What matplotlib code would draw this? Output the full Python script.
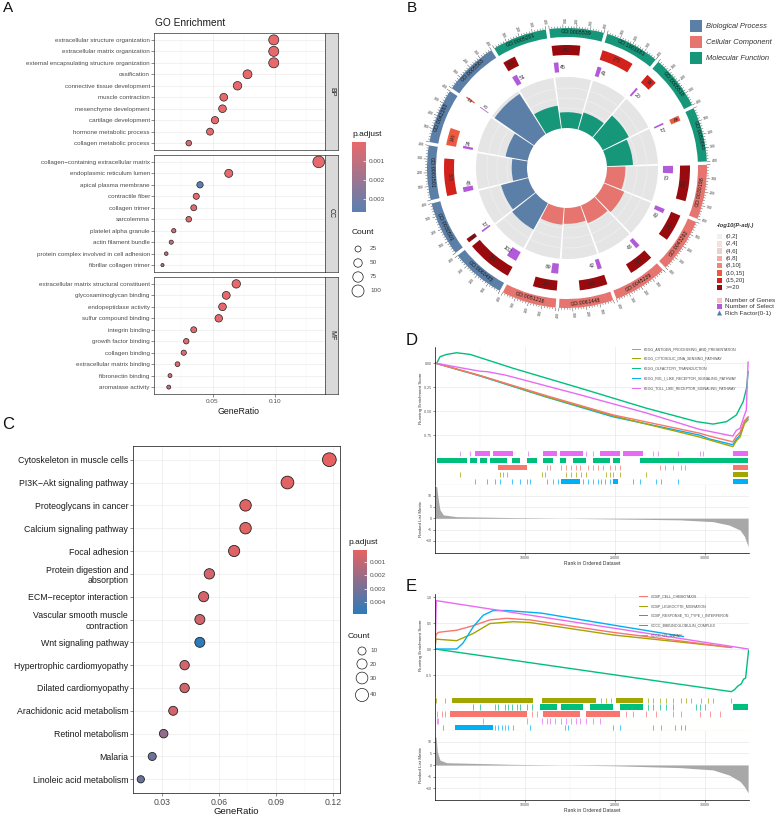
import numpy as np
import matplotlib
matplotlib.use('Agg')
import matplotlib.pyplot as plt
from matplotlib.patches import Wedge, Rectangle, Polygon
from matplotlib.collections import LineCollection
from matplotlib.colors import LinearSegmentedColormap, Normalize, to_rgb
from matplotlib.cm import ScalarMappable

plt.rcParams['font.family'] = ['Liberation Sans', 'DejaVu Sans']
plt.rcParams['hatch.linewidth'] = 0.6

# ---------------- A: GO enrichment dot plot
bp_terms = ['extracellular structure organization', 'extracellular matrix organization',
            'external encapsulating structure organization', 'ossification',
            'connective tissue development', 'muscle contraction', 'mesenchyme development',
            'cartilage development', 'hormone metabolic process', 'collagen metabolic process']
bp_ratio = [0.099, 0.099, 0.099, 0.078, 0.070, 0.059, 0.058, 0.052, 0.048, 0.031]
bp_count = [70, 70, 70, 55, 50, 42, 41, 37, 34, 22]
bp_padj = [1e-6, 1e-6, 1e-6, 1e-6, 1e-5, 2e-5, 2e-5, 5e-5, 1e-4, 5e-4]

cc_terms = ['collagen−containing extracellular matrix', 'endoplasmic reticulum lumen',
            'apical plasma membrane', 'contractile fiber', 'collagen trimer', 'sarcolemma',
            'platelet alpha granule', 'actin filament bundle',
            'protein complex involved in cell adhesion', 'fibrillar collagen trimer']
cc_ratio = [0.135, 0.063, 0.040, 0.037, 0.035, 0.031, 0.019, 0.017, 0.013, 0.010]
cc_count = [95, 45, 28, 26, 25, 22, 13, 12, 9, 7]
cc_padj = [1e-7, 1e-5, 0.0037, 1e-4, 2e-4, 3e-4, 8e-4, 9e-4, 1.1e-3, 1.4e-3]

mf_terms = ['extracellular matrix structural constituent', 'glycosaminoglycan binding',
            'endopeptidase activity', 'sulfur compound binding', 'integrin binding',
            'growth factor binding', 'collagen binding', 'extracellular matrix binding',
            'fibronectin binding', 'aromatase activity']
mf_ratio = [0.069, 0.061, 0.058, 0.055, 0.035, 0.029, 0.027, 0.022, 0.016, 0.015]
mf_count = [49, 43, 41, 39, 25, 21, 19, 16, 11, 11]
mf_padj = [1e-6, 1e-6, 1e-5, 1e-5, 1e-4, 2e-4, 3e-4, 3e-4, 6e-4, 9e-4]

# ---------------- C: KEGG dot plot
kegg_terms = ['Cytoskeleton in muscle cells', 'PI3K−Akt signaling pathway',
              'Proteoglycans in cancer', 'Calcium signaling pathway', 'Focal adhesion',
              'Protein digestion and\nabsorption', 'ECM−receptor interaction',
              'Vascular smooth muscle\ncontraction', 'Wnt signaling pathway',
              'Hypertrophic cardiomyopathy', 'Dilated cardiomyopathy',
              'Arachidonic acid metabolism', 'Retinol metabolism', 'Malaria',
              'Linoleic acid metabolism']
kegg_ratio = [0.118, 0.096, 0.074, 0.074, 0.068, 0.055, 0.052, 0.050, 0.050, 0.042,
              0.042, 0.036, 0.031, 0.025, 0.019]
kegg_count = [45, 37, 28, 28, 26, 21, 20, 19, 19, 16, 16, 14, 12, 10, 7]
kegg_padj = [5e-5, 2e-4, 2e-4, 2e-4, 3e-4, 5e-4, 5e-4, 6e-4, 0.0049, 6e-4, 6e-4, 6e-4,
             0.0023, 0.0033, 0.0034]

# ---------------- B: GO circle
go_ids = ['GO:0005201', 'GO:0005539', 'GO:1901681', 'GO:0005518', 'GO:0050840',
          'GO:0030198', 'GO:0043292', 'GO:0045229', 'GO:0061448', 'GO:0051216',
          'GO:0060485', 'GO:0030501', 'GO:0001501', 'GO:0042383', 'GO:0005583']
go_group = ['MF'] * 5 + ['CC'] * 5 + ['BP'] * 5
go_genes = [109, 240, 275, 96, 45, 301, 230, 210, 236, 202, 388, 35, 315, 146, 12]
go_padj_bin = [7, 7, 6, 6, 5, 7, 7, 7, 7, 7, 7, 7, 6, 5, 5]
go_select = [51, 45, 41, 20, 17, 73, 43, 43, 42, 69, 102, 17, 48, 24, 8]
go_rich = [0.45, 0.31, 0.35, 0.57, 0.51, 0.36, 0.43, 0.37, 0.31, 0.33, 0.59, 0.55,
           0.30, 0.44, 0.94]
padj_bin_labels = ['(0,2]', '(2,4]', '(4,6]', '(6,8]', '(8,10]', '(10,15]', '(15,20]', '>=20']
padj_bin_colors = ['#F3EFEF', '#F1E1DF', '#EDCFCB', '#EAB0A6', '#E98A78', '#EE5A3F',
                   '#D3221C', '#980A0E']

# ---------------- D: GSEA KEGG
d_names = ['KEGG_ANTIGEN_PROCESSING_AND_PRESENTATION', 'KEGG_CYTOSOLIC_DNA_SENSING_PATHWAY',
           'KEGG_OLFACTORY_TRANSDUCTION', 'KEGG_RIG_I_LIKE_RECEPTOR_SIGNALING_PATHWAY',
           'KEGG_TOLL_LIKE_RECEPTOR_SIGNALING_PATHWAY']
d_rank_red = [0, 5000, 12400, 19800, 29400, 30500, 33100, 33500, 33900, 34400, 34800]
d_es_red = [0, -0.13, -0.34, -0.54, -0.73, -0.76, -0.82, -0.76, -0.72, -0.60, -0.56]
d_es_olive = [0, -0.13, -0.35, -0.55, -0.77, -0.80, -0.87, -0.81, -0.77, -0.63, -0.59]
d_es_cyan = [0, -0.135, -0.355, -0.56, -0.75, -0.79, -0.85, -0.79, -0.75, -0.61, -0.57]
d_rank_green = [0, 200, 560, 1300, 2400, 3900, 8700, 16100, 23500, 29100, 30900, 32400,
                33500, 34260, 34630, 34800]
d_es_green = [0, 0.0, 0.066, 0.09, 0.107, 0.09, -0.055, -0.26, -0.47, -0.61, -0.635,
              -0.61, -0.54, -0.40, -0.26, -0.09]
d_rank_mag = [0, 3500, 5000, 5800, 7800, 16100, 23500, 29400, 33100, 33500, 33900, 34400,
              34600, 34800]
d_es_mag = [0, -0.06, -0.085, -0.09, -0.125, -0.33, -0.52, -0.69, -0.76, -0.70, -0.68,
            -0.54, -0.49, 0.01]
# hit rows, top to bottom: (color index, single ticks, dense spans)
d_hits = [
    (4, [2775, 3885, 10360, 16835, 17575, 24235, 24790, 27010, 29415, 29785],
     [(4440, 6105), (6475, 8695), (12025, 13505), (13875, 16465), (18315, 20535),
      (20905, 23125), (33115, 34780)]),
    (2, [], [(185, 3515), (3885, 4625), (4995, 5735), (6105, 7955), (8510, 9435),
             (10175, 11285), (12025, 13135), (13875, 14615), (15355, 16835),
             (17575, 19425), (19795, 20535), (22755, 34780)]),
    (0, [12395, 12765, 14060, 14615, 15170, 15725, 16095, 17020, 17575, 18130, 18685,
         19425, 19980, 20535, 24975, 25530, 26455, 27380, 27750],
     [(7030, 10175), (33115, 34780)]),
    (1, [2775, 7215, 7585, 7955, 11840, 12210, 14615, 15170, 15725, 16280, 16835, 19055,
         19425, 19795, 20535, 23495], [(33115, 34780)]),
    (3, [4440, 5735, 6660, 7215, 8510, 9435, 10175, 10545, 12395, 13135, 13690, 16465,
         17020, 17575, 18130, 18500, 18870, 19425, 22015, 22755, 24605, 25160, 27010],
     [(14060, 16095), (19795, 20350), (33115, 34780)]),
]
d_metric_rank = [0, 185, 370, 555, 925, 2400, 8700, 19800, 27200, 30900, 32700, 33900,
                 34400, 34800]
d_metric = [14, 14, 8, 3.7, 1.5, 0.7, 0.3, -0.3, -0.7, -1.5, -3, -5.2, -8, -12.5]

# ---------------- E: GSEA GO
e_names = ['GOBP_CELL_CHEMOTAXIS', 'GOBP_LEUKOCYTE_MIGRATION',
           'GOBP_RESPONSE_TO_TYPE_I_INTERFERON', 'GOCC_IMMUNOGLOBULIN_COMPLEX',
           'GOCC_U1_SNRNP']
e_rank_red = [0, 100, 370, 1300, 2400, 4260, 6100, 7960, 10550, 19800, 32960]
e_es_red = [0, 0.27, 0.32, 0.34, 0.36, 0.45, 0.56, 0.59, 0.56, 0.32, 0.03]
e_rank_olive = [0, 100, 2400, 4260, 6100, 8700, 10550, 19800, 32960]
e_es_olive = [0, 0.19, 0.16, 0.30, 0.49, 0.525, 0.51, 0.27, 0.03]
e_rank_green = [0, 32930, 33300, 33670, 34040, 34300, 34520, 34670, 34850]
e_es_green = [0, -0.82, -0.78, -0.71, -0.67, -0.58, -0.56, -0.32, -0.03]
e_rank_cyan = [0, 2400, 3100, 4260, 5360, 6470, 7960, 11840, 19800, 27600]
e_es_cyan = [0, 0.0, 0.11, 0.43, 0.65, 0.74, 0.74, 0.69, 0.46, 0.24]
e_rank_mag = [0, 150, 34800]
e_es_mag = [0, 0.93, 0.0]
e_hits = [
    (1, [111, 1110, 18500, 19055, 19610, 23680, 24235, 24975, 25715, 26455, 27380, 27935,
         28490, 29600, 30340, 30895, 32930],
     [(1850, 10915), (11840, 17945), (20165, 23125)]),
    (2, [4255, 4995, 6660, 7030, 7770, 8140, 8510, 9065, 9435, 10175, 10730, 23680, 24235,
         24975, 25715, 26455, 29045, 29415, 29970],
     [(11655, 13505), (14060, 16465), (17205, 19795), (20535, 23125), (33115, 34780)]),
    (0, [185, 740, 1110, 10730, 11285, 21275, 22015, 23495, 24605, 26455, 27380, 29415,
         30525, 31635], [(1665, 10175), (12025, 16095), (16835, 20535)]),
    (4, [185, 370, 5365, 10175, 11840, 12395, 12765, 13320, 14060, 14615, 15170, 15725,
         16095, 16835, 17575, 18315], []),
    (3, [925, 6660, 7030, 7400, 7770, 8140, 8695, 10545, 14430, 14800, 19795, 20535, 24235,
         25160, 26640, 27380, 27750], [(2220, 6475)]),
]
e_metric_rank = [0, 111, 260, 555, 1300, 8700, 19800, 27200, 30900, 32700, 33900, 34400,
                 34800]
e_metric = [12, 12, 5.7, 2.1, 1.0, 0.3, -0.3, -1.1, -2.1, -4.3, -7, -9.3, -12]

gsea_colors = ['#F8766D', '#A3A500', '#00BF7D', '#00B0F6', '#E76BF3']

# ============================================================
W, H = 778, 818
fig = plt.figure(figsize=(W / 100, H / 100), dpi=100)


def px_axes(x0, y0, x1, y1):
    return fig.add_axes([x0 / W, 1 - y1 / H, (x1 - x0) / W, (y1 - y0) / H])


def dot_a(count):
    return (1.2 * np.sqrt(count) * 0.72) ** 2


def dot_c(count):
    return ((3 + 1.6 * np.sqrt(count)) * 0.72) ** 2


def lighten(col, f=0.3):
    r, g, b = to_rgb(col)
    return (1 - f * (1 - r), 1 - f * (1 - g), 1 - f * (1 - b))


# ---------------- panel A
cmap_a = LinearSegmentedColormap.from_list('a', ['#E8696B', '#5A80B0'])
norm_a = Normalize(0.0, 0.0037)
facets = [('BP', bp_terms, bp_ratio, bp_count, bp_padj, 33, 150),
          ('CC', cc_terms, cc_ratio, cc_count, cc_padj, 155, 272),
          ('MF', mf_terms, mf_ratio, mf_count, mf_padj, 277, 394)]
for name, terms, ratio, count, padj, y0, y1 in facets:
    ax = px_axes(154, y0, 325, y1)
    ypos = np.arange(len(terms))[::-1] + 1
    ax.scatter(ratio, ypos, s=[dot_a(c) for c in count], c=padj, cmap=cmap_a, norm=norm_a,
               edgecolors='#222222', linewidths=0.5, zorder=3)
    ax.set_xlim(0.0032, 0.140)
    ax.set_ylim(0.4, len(terms) + 0.6)
    ax.set_yticks(ypos)
    ax.set_yticklabels(terms)
    ax.set_xticks([0.05, 0.10])
    ax.set_xticks([0.025, 0.075, 0.125], minor=True)
    ax.grid(which='major', color='#EBEBEB', lw=0.5)
    ax.grid(which='minor', axis='x', color='#F4F4F4', lw=0.3)
    ax.set_axisbelow(True)
    ax.tick_params(axis='y', length=2, width=0.4, color='#333333', pad=1, labelsize=4.5,
                   labelcolor='#4D4D4D')
    ax.tick_params(axis='x', which='minor', length=0)
    if name == 'MF':
        ax.set_xticklabels(['0.05', '0.10'])
        ax.tick_params(axis='x', length=2, width=0.4, color='#333333', pad=1.5,
                       labelsize=4.6, labelcolor='#4D4D4D')
    else:
        ax.tick_params(axis='x', length=0, labelbottom=False)
    for sp in ax.spines.values():
        sp.set_color('#333333')
        sp.set_linewidth(0.5)
    sax = px_axes(325, y0, 338, y1)
    sax.set_facecolor('#D9D9D9')
    sax.set_xticks([])
    sax.set_yticks([])
    for sp in sax.spines.values():
        sp.set_color('#333333')
        sp.set_linewidth(0.5)
    sax.text(0.5, 0.5, name, rotation=-90, transform=sax.transAxes, ha='center',
             va='center', fontsize=5, color='#1A1A1A')

cax = px_axes(352, 142, 366, 212)
cb = fig.colorbar(ScalarMappable(norm=norm_a, cmap=cmap_a), cax=cax)
cb.set_ticks([0.001, 0.002, 0.003])
cb.outline.set_visible(False)
cax.invert_yaxis()
cax.tick_params(labelsize=4.6, length=2.5, color='white', direction='in', width=0.5,
                labelcolor='#4D4D4D', pad=2)

# ---------------- panel C
cmap_c = LinearSegmentedColormap.from_list('c', ['#E66262', '#2C7BBA'])
norm_c = Normalize(0.00005, 0.00495)
axc = px_axes(133, 446, 340, 793)
ypos = np.arange(len(kegg_terms))[::-1] + 1
axc.scatter(kegg_ratio, ypos, s=[dot_c(c) for c in kegg_count], c=kegg_padj, cmap=cmap_c,
            norm=norm_c, edgecolors='#222222', linewidths=0.6, zorder=3)
axc.set_xlim(0.0149, 0.1236)
axc.set_ylim(0.4, len(kegg_terms) + 0.6)
axc.set_yticks(ypos)
axc.set_yticklabels(kegg_terms)
for t in axc.get_yticklabels():
    t.set_multialignment('right')
axc.set_xticks([0.03, 0.06, 0.09, 0.12])
axc.set_xticklabels(['0.03', '0.06', '0.09', '0.12'])
axc.set_xticks([0.045, 0.075, 0.105], minor=True)
axc.grid(which='major', color='#EBEBEB', lw=0.5)
axc.grid(which='minor', axis='x', color='#F4F4F4', lw=0.3)
axc.set_axisbelow(True)
axc.tick_params(axis='both', length=2, width=0.4, color='#333333', pad=1.5, labelsize=6.3,
                labelcolor='#1A1A1A')
axc.tick_params(axis='x', which='minor', length=0)
axc.tick_params(axis='x', labelcolor='#4D4D4D', labelsize=6.3)
for sp in axc.spines.values():
    sp.set_color('#333333')
    sp.set_linewidth(0.6)

cax2 = px_axes(353, 550, 367, 614)
cb2 = fig.colorbar(ScalarMappable(norm=norm_c, cmap=cmap_c), cax=cax2)
cb2.set_ticks([0.001, 0.002, 0.003, 0.004])
cb2.outline.set_visible(False)
cax2.invert_yaxis()
cax2.tick_params(labelsize=4.6, length=2.5, color='white', direction='in', width=0.5,
                 labelcolor='#4D4D4D', pad=2)


# ---------------- panels D and E
def gsea(y_es, y_hit, y_rank, y_bot, es_lines, es_lim, es_ticks, es_labels, hits, mrank,
         metric, m_lim, base_color):
    ax1 = px_axes(435, y_es, 749, y_hit)
    ax2 = px_axes(435, y_hit, 749, y_rank)
    ax3 = px_axes(435, y_rank, 749, y_bot)
    for ax in (ax1, ax2, ax3):
        ax.set_xlim(0, 34900)
        for sp in ax.spines.values():
            sp.set_visible(False)
        ax.spines['left'].set_visible(True)
        ax.spines['left'].set_linewidth(0.5)
        ax.tick_params(axis='both', length=1.5, width=0.4, labelsize=2.5, pad=1,
                       labelcolor='#4D4D4D', color='#333333')
    for ax in (ax1, ax3):
        ax.set_xticks([10000, 20000, 30000])
        ax.set_xticks([5000, 15000, 25000], minor=True)
        ax.grid(which='major', color='#E3E3E3', lw=0.4)
        ax.grid(which='minor', axis='x', color='#EFEFEF', lw=0.3)
        ax.set_axisbelow(True)
    for rk, es, ci in es_lines:
        ax1.plot(rk, es, color=gsea_colors[ci], lw=1.0)
    ax1.set_ylim(*es_lim)
    ax1.set_yticks(es_ticks)
    ax1.set_yticklabels(es_labels)
    ax1.tick_params(axis='x', which='both', length=0, labelbottom=False)

    n = len(hits)
    ax2.set_ylim(0, n)
    ax2.set_yticks([])
    ax2.set_xticks([])
    for i, (ci, ticks, spans) in enumerate(hits):
        yb = n - 1 - i
        col = gsea_colors[ci]
        ax2.vlines(ticks, yb + 0.1, yb + 0.9, colors=col, lw=0.5)
        for s, e in spans:
            ax2.add_patch(Rectangle((s, yb + 0.1), e - s, 0.8, facecolor=lighten(col),
                                    edgecolor=col, lw=0, hatch='|' * 20))
    ax2.axhline(0.02, color=base_color, lw=0.8)

    ax3.fill_between(mrank, metric, 0, color='#A8A8A8', lw=0)
    ax3.set_ylim(*m_lim)
    ax3.set_yticks([10, 5, 0, -5, -10])
    ax3.spines['bottom'].set_visible(True)
    ax3.spines['bottom'].set_linewidth(0.5)
    ax3.set_xticklabels(['10000', '20000', '30000'])
    ax3.tick_params(axis='x', which='minor', length=0)


gsea(347, 450, 485, 553,
     [(d_rank_green, d_es_green, 2), (d_rank_red, d_es_cyan, 3), (d_rank_red, d_es_olive, 1),
      (d_rank_red, d_es_red, 0), (d_rank_mag, d_es_mag, 4)],
     (-0.905, 0.167), [0, -0.25, -0.5, -0.75], ['0.00', '-0.25', '-0.50', '-0.75'],
     d_hits, d_metric_rank, d_metric, (-15.35, 14.7), '#EBA8EE')
gsea(594, 697, 731, 800,
     [(e_rank_green, e_es_green, 2), (e_rank_olive, e_es_olive, 1),
      (e_rank_red, e_es_red, 0), (e_rank_cyan, e_es_cyan, 3), (e_rank_mag, e_es_mag, 4)],
     (-0.923, 1.058), [1.0, 0.5, 0.0, -0.5], ['1.0', '0.5', '0.0', '-0.5'],
     e_hits, e_metric_rank, e_metric, (-15.0, 14.6), '#D2CC7A')

# ---------------- overlay: texts, legends, circos plot (pixel coordinates)
ov = fig.add_axes([0, 0, 1, 1])
ov.set_xlim(0, W)
ov.set_ylim(H, 0)
ov.axis('off')

for lab, x, y, fs in [('A', 3, 1, 11), ('B', 407, 1, 11), ('C', 2, 417, 12),
                      ('D', 406, 333, 12), ('E', 406, 579, 12)]:
    ov.text(x, y, lab, fontsize=fs, va='top', ha='left', color='#111111')

ov.text(155, 23, 'GO Enrichment', fontsize=7.3, ha='left', va='center', color='#1A1A1A')
ov.text(239, 411, 'GeneRatio', fontsize=6.3, ha='center', va='center', color='#1A1A1A')
ov.text(352, 134, 'p.adjust', fontsize=6, ha='left', va='center', color='#1A1A1A')
ov.text(352, 233, 'Count', fontsize=6, ha='left', va='center', color='#1A1A1A')
for c, y in zip([25, 50, 75, 100], [249, 263, 277, 291]):
    ov.scatter([358], [y], s=dot_a(c), facecolors='none', edgecolors='#1A1A1A', lw=0.5)
    ov.text(370, y, str(c), fontsize=4.6, va='center', color='#4D4D4D')

ov.text(236, 811, 'GeneRatio', fontsize=6.8, ha='center', va='center', color='#1A1A1A')
ov.text(348, 542, 'p.adjust', fontsize=6, ha='left', va='center', color='#1A1A1A')
ov.text(348, 636, 'Count', fontsize=6, ha='left', va='center', color='#1A1A1A')
for c, y in zip([10, 20, 30, 40], [651, 664, 678, 695]):
    ov.scatter([362], [y], s=dot_c(c), facecolors='none', edgecolors='#1A1A1A', lw=0.5)
    ov.text(370, y, str(c), fontsize=4.6, va='center', color='#4D4D4D')

# GSEA axis titles and legends
for y_es, y_rank, y_x in [(398, 519, 563.5), (645, 765, 811)]:
    ov.text(421, y_es, 'Running Enrichment Score', rotation=90, fontsize=3.2,
            ha='center', va='center', color='#333333')
    ov.text(421, y_rank, 'Ranked List Metric', rotation=90, fontsize=3.2,
            ha='center', va='center', color='#333333')
    ov.text(592, y_x, 'Rank in Ordered Dataset', fontsize=3.6, ha='center', va='center',
            color='#333333')
for names, xl, ys in [(d_names, 632, [349, 358, 368, 378, 388]),
                      (e_names, 639, [596, 606, 615, 625, 635])]:
    for i, (nm, y) in enumerate(zip(names, ys)):
        ov.plot([xl, xl + 8], [y, y], color=gsea_colors[i], lw=0.7)
        ov.text(xl + 12, y, nm, fontsize=2.6, va='center', color='#4D4D4D')

# circos
cx, cy = 567, 168
grp_color = {'BP': '#5B7FA7', 'CC': '#E6756F', 'MF': '#16977A'}


def ring(a1, a2, r_in, r_out, color, z=2):
    ov.add_patch(Wedge((cx, cy), r_out, a1 - 90, a2 - 90, width=r_out - r_in,
                       facecolor=color, edgecolor='none', zorder=z))


def pt(a, r):
    t = np.radians(a)
    return cx + r * np.sin(t), cy - r * np.cos(t)


def tang_rot(a):
    a = a % 360
    return 180 - a if 90 < a < 270 else -a


def rad_rot(a):
    r = 90 - a
    while r > 90:
        r -= 180
    while r <= -90:
        r += 180
    return r


ticks = []
for k in range(len(go_ids)):
    a0 = -32 + 24 * k
    a1 = a0 + 24
    col = grp_color[go_group[k]]
    # outer id ring
    ring(a0 + 0.7, a1 - 0.7, 131, 140, col)
    am = (a0 + a1) / 2
    x, y = pt(am, 135.5)
    ov.text(x, y, go_ids[k], rotation=tang_rot(am), fontsize=3.8, ha='center', va='center',
            color='#1A1A1A', rotation_mode='anchor', zorder=5)
    for v in range(0, 401, 20):
        a = a0 + 0.7 + v / 400 * 22.6
        ln = 3.5 if v % 100 == 0 else 1.8
        ticks.append([pt(a, 140), pt(a, 140 + ln)])
        if v % 100 == 0 and v > 0:
            x, y = pt(a, 147.5)
            ov.text(x, y, str(v), rotation=rad_rot(a), fontsize=2.5, ha='center',
                    va='center', color='#333333', rotation_mode='anchor')
    # number of genes
    g1 = a0 + 0.8 + go_genes[k] / 400 * 22.4
    ring(a0 + 0.8, g1, 113, 123, padj_bin_colors[go_padj_bin[k]])
    x, y = pt((a0 + 0.8 + g1) / 2, 118)
    ov.text(x, y, str(go_genes[k]), rotation=tang_rot((a0 + g1) / 2), fontsize=3.4,
            ha='center', va='center', color='#2A2A2A', rotation_mode='anchor', zorder=5)
    # number of selected genes
    s1 = a0 + 0.8 + go_select[k] / 400 * 22.4
    ring(a0 + 0.8, s1, 96, 106, '#B25BD9')
    x, y = pt(s1 + 2.2, 101)
    ov.text(x, y, str(go_select[k]), rotation=tang_rot(s1 + 2.2), fontsize=3.8,
            ha='center', va='center', color='#2A2A2A', rotation_mode='anchor', zorder=5)
    # rich factor track
    ring(a0 + 0.6, a1 - 0.6, 40, 91, '#E5E5E5', z=1)
    ring(a0 + 0.6, a1 - 0.6, 40, 40 + 51 * go_rich[k], col, z=3)

ov.add_collection(LineCollection(ticks, colors='#333333', linewidths=0.3))
for rr in [50, 60, 70, 80]:
    ov.add_patch(Wedge((cx, cy), rr + 0.3, 0, 360, width=0.6, facecolor='#F2F2F2',
                       edgecolor='none', zorder=1.5))

for i, (g, lab) in enumerate([('BP', 'Biological Process'), ('CC', 'Cellular Component'),
                              ('MF', 'Molecular Function')]):
    ov.add_patch(Rectangle((690, 20 + 16 * i), 12, 12, facecolor=grp_color[g],
                           edgecolor='none'))
    ov.text(706, 26 + 16 * i, lab, fontsize=5.4, style='italic', va='center',
            color='#333333')

ov.text(717, 226, '-log10(P-adj.)', fontsize=4.2, style='italic', weight='bold',
        va='center', color='#333333')
for i, (lab, c) in enumerate(zip(padj_bin_labels, padj_bin_colors)):
    y = 236.5 + 7.3 * i
    ov.add_patch(Rectangle((717, y - 2.7), 5.4, 5.4, facecolor=c, edgecolor='none'))
    ov.text(726, y, lab, fontsize=4.4, va='center', color='#333333')

ov.add_patch(Rectangle((717, 297.5), 5, 5, facecolor='#F5C6C6', edgecolor='none'))
ov.text(725, 300, 'Number of Genes', fontsize=4.6, va='center', color='#333333')
ov.add_patch(Rectangle((717, 304), 5, 5, facecolor='#B25BD9', edgecolor='none'))
ov.text(725, 306.5, 'Number of Select', fontsize=4.6, va='center', color='#333333')
ov.add_patch(Polygon([(717, 315.5), (722, 315.5), (719.5, 310.5)], closed=True,
                     facecolor='#4F7BB0', edgecolor='none'))
ov.text(725, 313, 'Rich Factor(0-1)', fontsize=4.6, va='center', color='#333333')

fig.savefig('out.png', dpi=100)
